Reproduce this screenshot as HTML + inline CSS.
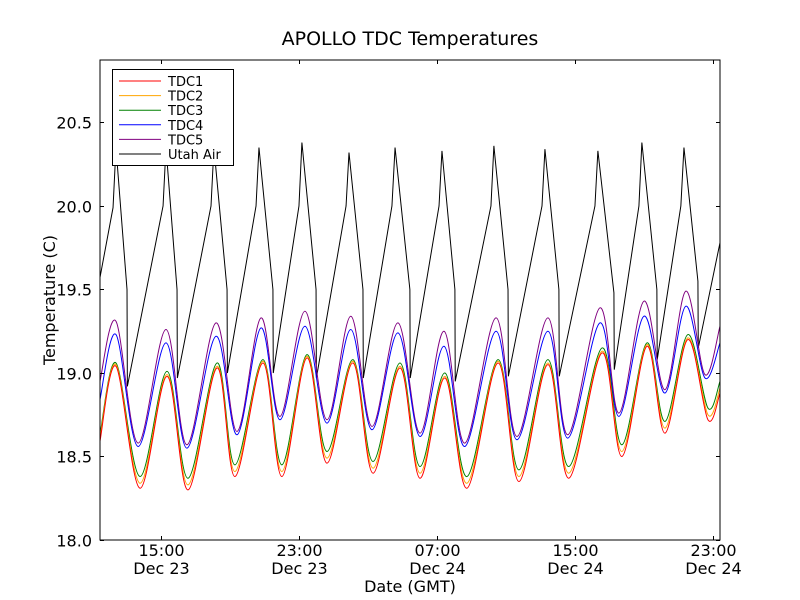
<!DOCTYPE html>
<html><head><meta charset="utf-8"><style>
body{margin:0;background:#fff;}
svg{display:block;font-family:"DejaVu Sans","Liberation Sans",sans-serif;}
</style></head><body>
<svg id="chart" width="800" height="600">
<rect x="0" y="0" width="800" height="600" fill="#fff"/>
<text x="410" y="45" text-anchor="middle" font-size="19">APOLLO TDC Temperatures</text>
<g id="plot"></g>
<rect x="100" y="60" width="620" height="480" fill="none" stroke="#000" stroke-width="1"/>
<g id="axes"></g>
<text x="410" y="592" text-anchor="middle" font-size="16">Date (GMT)</text>
<text transform="translate(55,300) rotate(-90)" text-anchor="middle" font-size="16">Temperature (C)</text>
<g id="legend"></g>
</svg>
<script>
// ---- data (hours since Dec 23 00:00 GMT, temperatures in C) ----
const tdcTimes = [11.46,12.39,13.78,15.35,16.57,18.25,19.29,20.91,22.01,23.46,24.62,26.13,27.29,28.86,30.01,31.46,32.74,34.54,35.75,37.43,38.65,40.57,41.72,43.17,44.22,45.55,46.71,47.41];
const tdc1 = [18.59,19.04,18.31,18.98,18.30,19.03,18.38,19.06,18.38,19.09,18.46,19.06,18.40,19.03,18.37,18.97,18.31,19.06,18.35,19.05,18.37,19.12,18.50,19.16,18.64,19.20,18.72,18.88];
const tdc2 = [18.61,19.05,18.34,18.99,18.33,19.04,18.41,19.07,18.41,19.10,18.49,19.07,18.43,19.04,18.40,18.98,18.34,19.07,18.38,19.06,18.40,19.13,18.53,19.17,18.67,19.21,18.75,18.91];
const tdc3 = [18.63,19.06,18.38,19.01,18.37,19.06,18.45,19.08,18.45,19.11,18.53,19.08,18.47,19.06,18.44,19.00,18.38,19.08,18.42,19.08,18.44,19.15,18.57,19.18,18.71,19.23,18.79,18.95];
const tdc45Times = [11.46,12.39,13.67,15.29,16.51,18.19,19.41,20.80,21.90,23.35,24.62,26.01,27.23,28.74,30.01,31.41,32.62,34.42,35.64,37.43,38.59,40.45,41.55,43.0,44.22,45.43,46.54,47.41];
const tdc4 = [18.84,19.23,18.56,19.18,18.55,19.22,18.63,19.27,18.72,19.28,18.70,19.26,18.66,19.24,18.62,19.16,18.56,19.25,18.60,19.25,18.61,19.30,18.74,19.34,18.88,19.40,18.97,19.18];
const tdc5 = [18.95,19.31,18.58,19.26,18.57,19.30,18.65,19.33,18.74,19.37,18.72,19.34,18.68,19.30,18.64,19.25,18.58,19.33,18.62,19.33,18.63,19.39,18.76,19.43,18.90,19.49,18.99,19.28];
const airTimes = [11.46,12.22,12.39,13.03,13.05,15.12,15.29,15.93,15.95,17.90,18.07,18.83,18.85,20.51,20.68,21.49,21.51,23.0,23.17,23.99,24.01,25.73,25.90,26.71,26.73,28.39,28.57,29.43,29.45,31.12,31.29,32.04,32.06,34.13,34.30,35.12,35.14,37.09,37.26,38.07,38.09,40.16,40.33,41.26,41.28,42.71,42.88,43.75,43.77,45.14,45.32,46.13,46.15,47.41];
const utahAir = [19.57,19.99,20.35,19.50,18.92,20.0,20.35,19.50,18.97,20.0,20.35,19.5,19.0,20.0,20.35,19.5,19.0,20.0,20.38,19.5,18.97,20.0,20.32,19.5,18.97,20.0,20.35,19.5,18.97,20.0,20.33,19.5,18.95,20.0,20.36,19.5,18.98,20.0,20.34,19.5,18.98,20.0,20.33,19.48,19.02,20.0,20.38,19.5,19.08,20.0,20.35,19.55,19.15,19.78];
const yTicks = [18.0,18.5,19.0,19.5,20.0,20.5];
const yTickLabels = ["18.0","18.5","19.0","19.5","20.0","20.5"];
const xTicks = [15,23,31,39,47];
const xTickTimes = ["15:00","23:00","07:00","15:00","23:00"];
const xTickDates = ["Dec 23","Dec 23","Dec 24","Dec 24","Dec 24"];
const seriesNames = ["TDC1","TDC2","TDC3","TDC4","TDC5","Utah Air"];

// ---- scales ----
const X0=100,X1=720,Y0=540,Y1=60;
const tMin=11.464,tMax=47.41,vMin=18.0,vMax=20.874;
function xs(t){return X0+(t-tMin)/(tMax-tMin)*(X1-X0);}
function ys(v){return Y0-(v-vMin)/(vMax-vMin)*(Y0-Y1);}
const NS="http://www.w3.org/2000/svg";
const plot=document.getElementById('plot');
const axes=document.getElementById('axes');
const legend=document.getElementById('legend');

function smoothPath(ts,vs){
  const p=ts.map((t,i)=>[xs(t),ys(vs[i])]);
  let d="M"+p[0][0].toFixed(2)+","+p[0][1].toFixed(2);
  for(let i=0;i<p.length-1;i++){
    const a=p[i-1]||p[i],b=p[i],c=p[i+1],e=p[i+2]||c;
    const c1=[b[0]+(c[0]-a[0])/6,b[1]+(c[1]-a[1])/6];
    const c2=[c[0]-(e[0]-b[0])/6,c[1]-(e[1]-b[1])/6];
    d+=" C"+c1[0].toFixed(2)+","+c1[1].toFixed(2)+" "+c2[0].toFixed(2)+","+c2[1].toFixed(2)+" "+c[0].toFixed(2)+","+c[1].toFixed(2);
  }
  return d;
}
function linePath(ts,vs){
  return ts.map((t,i)=>(i?"L":"M")+xs(t).toFixed(2)+","+ys(vs[i]).toFixed(2)).join(" ");
}
const clip=document.createElementNS(NS,'clipPath');clip.setAttribute('id','pc');
const cr=document.createElementNS(NS,'rect');cr.setAttribute('x',X0);cr.setAttribute('y',Y1);cr.setAttribute('width',X1-X0);cr.setAttribute('height',Y0-Y1);
clip.appendChild(cr);plot.appendChild(clip);
plot.setAttribute('clip-path','url(#pc)');

function addSeries(d,color,name){
  const p=document.createElementNS(NS,'path');
  p.setAttribute('d',d);p.setAttribute('fill','none');p.setAttribute('stroke',color);p.setAttribute('stroke-width','1');
  
  
  plot.appendChild(p);
}
addSeries(linePath(airTimes,utahAir),'#000','series-utah-air');
addSeries(smoothPath(tdc45Times,tdc5),'#800080','series-tdc5');
addSeries(smoothPath(tdc45Times,tdc4),'#0000ff','series-tdc4');
addSeries(smoothPath(tdcTimes,tdc3),'#008000','series-tdc3');
addSeries(smoothPath(tdcTimes,tdc2),'#ffa500','series-tdc2');
addSeries(smoothPath(tdcTimes,tdc1),'#ff0000','series-tdc1');

function ln(x1,y1,x2,y2,g){const l=document.createElementNS(NS,'line');l.setAttribute('x1',x1);l.setAttribute('y1',y1);l.setAttribute('x2',x2);l.setAttribute('y2',y2);l.setAttribute('stroke','#000');l.setAttribute('stroke-width','1');g.appendChild(l);return l;}
function tx(x,y,s,anchor,size,g){const t=document.createElementNS(NS,'text');t.setAttribute('x',x);t.setAttribute('y',y);t.setAttribute('text-anchor',anchor);t.setAttribute('font-size',size);t.textContent=s;g.appendChild(t);return t;}

yTicks.forEach((v,i)=>{
  const y=Math.round(ys(v))+0.5;
  const a=ln(X0,y,X0+4,y,axes);
  
  
  const b=ln(X1-4,y,X1,y,axes);
  
  
  const t=tx(92,y+6,yTickLabels[i],'end',16,axes);
  
  
});
xTicks.forEach((h,i)=>{
  const x=Math.round(xs(h))+0.5;
  const a=ln(x,Y0,x,Y0-4,axes);
  
  
  const b=ln(x,Y1,x,Y1+4,axes);
  
  
  const t1=tx(x,556,xTickTimes[i],'middle',16,axes);
  
  
  const t2=tx(x,574,xTickDates[i],'middle',16,axes);
  
  
});

// legend
const lg=document.createElementNS(NS,'rect');
lg.setAttribute('x',112.5);lg.setAttribute('y',69.5);lg.setAttribute('width',121);lg.setAttribute('height',96);
lg.setAttribute('fill','#fff');lg.setAttribute('stroke','#000');


legend.appendChild(lg);
const legColors=['#ff0000','#ffa500','#008000','#0000ff','#800080','#000'];
seriesNames.forEach((n,i)=>{
  const y=81+i*14.6;
  const g=document.createElementNS(NS,'g');
  
  
  const l=ln(119,y,161,y,g);l.setAttribute('stroke',legColors[i]);
  tx(168,y+5,n,'start',13,g);
  legend.appendChild(g);
});
</script>
</body></html>
